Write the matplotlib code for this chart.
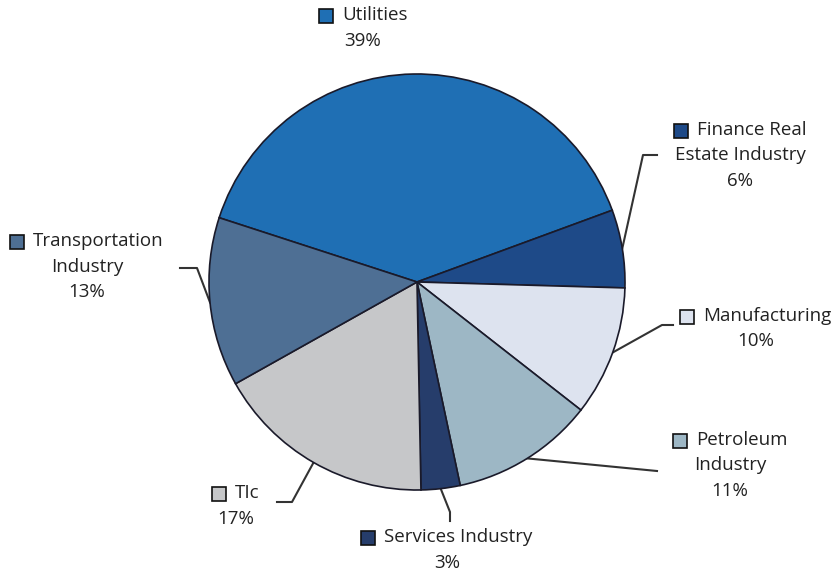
import numpy as np
import matplotlib
matplotlib.use("Agg")
import matplotlib.pyplot as plt
import matplotlib.patches as patches

# data
sectors = ["Utilities", "Finance Real Estate Industry", "Manufacturing",
           "Petroleum Industry", "Services Industry", "TIc",
           "Transportation Industry"]
shares = [39, 6, 10, 11, 3, 17, 13]
label_lines = [["Utilities"], ["Finance Real", "Estate Industry"],
               ["Manufacturing"], ["Petroleum", "Industry"],
               ["Services Industry"], ["TIc"], ["Transportation", "Industry"]]
colors = ["#1f6fb4", "#1e4a88", "#dde3ef", "#9db7c5", "#263d6b",
          "#c6c7c9", "#4e6f94"]

W, H = 836, 574
CX, CY, R = 417, 282, 208

# label layout in image pixels: centre x, first line y, leader (elbow, end)
label_pos = [(363, 15), (740, 130), (756, 316), (730, 440),
             (447, 537), (236, 493), (87, 241)]
leaders = [None,
           [(643, 155), (657, 155)],
           [(662, 325), (673, 325)],
           [(657, 471)],
           [(450, 512), (450, 521)],
           [(292, 502), (277, 502)],
           [(197, 268), (180, 268)]]

plt.rcParams['font.family'] = ['Open Sans', 'DejaVu Sans']
FS = 13.5
LINE_H = 25.5
SQ = 14
GAP = 9


def Y(y):
    return H - y


fig = plt.figure(figsize=(W / 100, H / 100), dpi=100)
ax = fig.add_axes([0, 0, 1, 1])
wedges, _ = ax.pie(shares, colors=colors, startangle=162, counterclock=False,
                   center=(CX, Y(CY)), radius=R,
                   wedgeprops=dict(edgecolor="#1a1a2a", linewidth=1.2))
ax.set_xlim(0, W)
ax.set_ylim(0, H)
ax.set_aspect("equal")
ax.axis("off")

renderer = fig.canvas.get_renderer()
for i, w in enumerate(wedges):
    cx, y0 = label_pos[i]
    lines = label_lines[i] + [f"{shares[i]}%"]
    for k, txt in enumerate(lines):
        y = Y(y0 + k * LINE_H)
        if k == 0:
            t = ax.text(0, y, txt, fontsize=FS, color="#222222",
                        ha="left", va="center")
            tw = t.get_window_extent(renderer).width
            left = cx - (SQ + GAP + tw) / 2
            t.set_x(left + SQ + GAP)
            ax.add_patch(patches.Rectangle((left, y - SQ / 2 - 1), SQ, SQ,
                                           facecolor=colors[i],
                                           edgecolor="#111111", lw=1.2))
        else:
            ax.text(cx, y, txt, fontsize=FS, color="#222222",
                    ha="center", va="center")
    if leaders[i] is not None:
        mid = np.deg2rad((w.theta1 + w.theta2) / 2)
        ax_pt = (CX + R * np.cos(mid), Y(CY) + R * np.sin(mid))
        xs = [ax_pt[0]] + [p[0] for p in leaders[i]]
        ys = [ax_pt[1]] + [Y(p[1]) for p in leaders[i]]
        ax.plot(xs, ys, color="#333333", lw=1.5, zorder=0)

fig.savefig("out.png", dpi=100)
